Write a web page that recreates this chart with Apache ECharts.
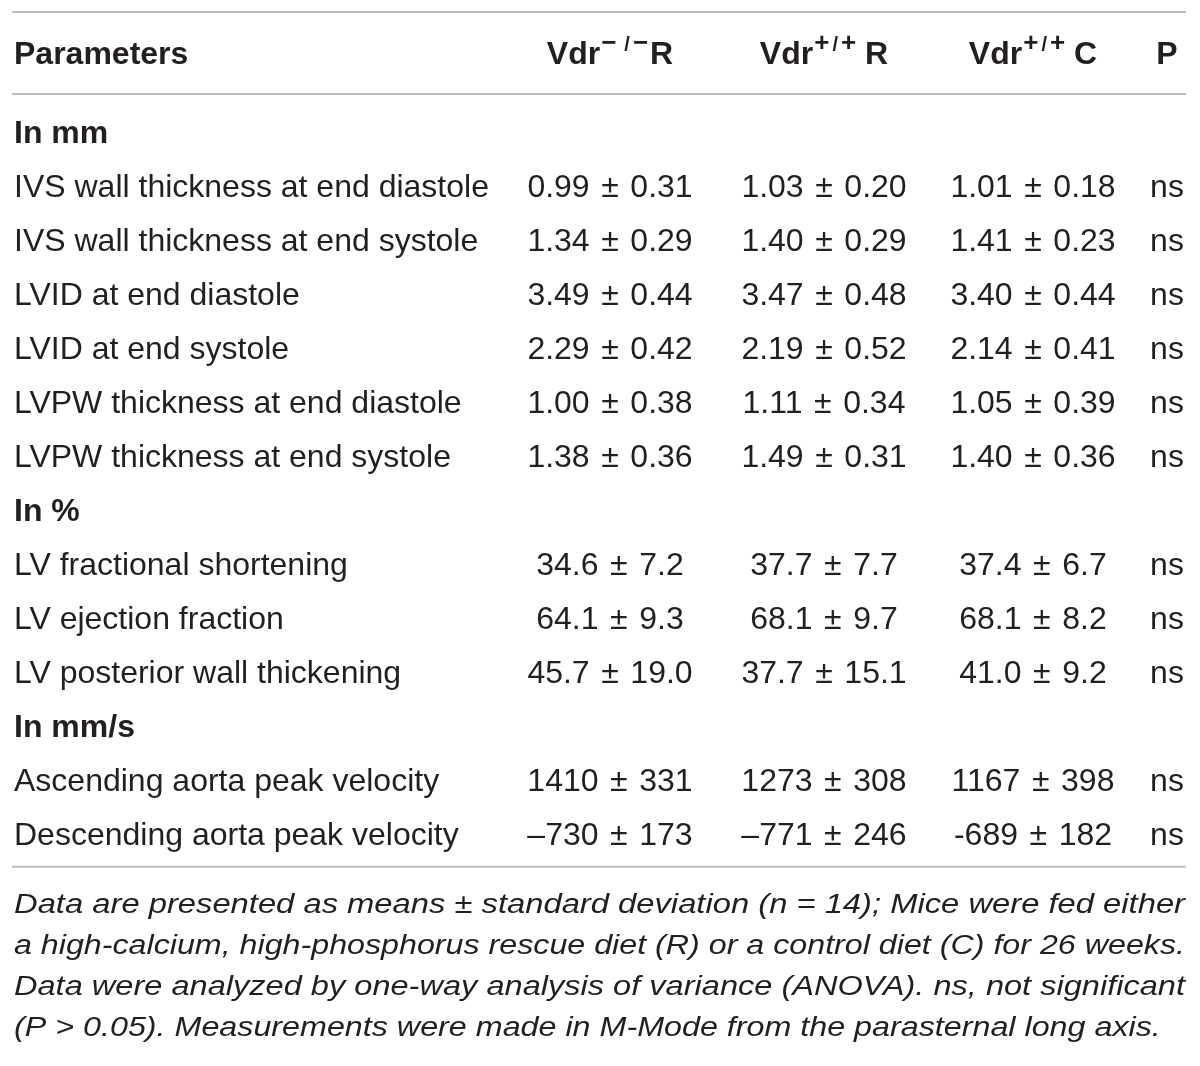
<!DOCTYPE html>
<html lang="en">
<head>
<meta charset="UTF-8">
<title>Echocardiographic parameters</title>
<script src="https://cdn.jsdelivr.net/npm/echarts@6/dist/echarts.min.js"></script>
<style>
  body { margin: 0; background: #fff; }
  #chart { width: 1200px; height: 1066px; }
</style>
</head>
<body>
<div id="chart"></div>
<script>
// table rows, top to bottom; section headings carry no values
const rowLabels = [
  'In mm',
  'IVS wall thickness at end diastole',
  'IVS wall thickness at end systole',
  'LVID at end diastole',
  'LVID at end systole',
  'LVPW thickness at end diastole',
  'LVPW thickness at end systole',
  'In %',
  'LV fractional shortening',
  'LV ejection fraction',
  'LV posterior wall thickening',
  'In mm/s',
  'Ascending aorta peak velocity',
  'Descending aorta peak velocity'
];
const sectionRows = ['In mm', 'In %', 'In mm/s'];
const decimals = [null, 2, 2, 2, 2, 2, 2, null, 1, 1, 1, null, 0, 0];

const koRMean = [null, 0.99, 1.34, 3.49, 2.29, 1.00, 1.38, null, 34.6, 64.1, 45.7, null, 1410, -730];
const koRSd   = [null, 0.31, 0.29, 0.44, 0.42, 0.38, 0.36, null, 7.2, 9.3, 19.0, null, 331, 173];
const wtRMean = [null, 1.03, 1.40, 3.47, 2.19, 1.11, 1.49, null, 37.7, 68.1, 37.7, null, 1273, -771];
const wtRSd   = [null, 0.20, 0.29, 0.48, 0.52, 0.34, 0.31, null, 7.7, 9.7, 15.1, null, 308, 246];
const wtCMean = [null, 1.01, 1.41, 3.40, 2.14, 1.05, 1.40, null, 37.4, 68.1, 41.0, null, 1167, -689];
const wtCSd   = [null, 0.18, 0.23, 0.44, 0.41, 0.39, 0.36, null, 6.7, 8.2, 9.2, null, 398, 182];
const pValues = [null, 'ns', 'ns', 'ns', 'ns', 'ns', 'ns', null, 'ns', 'ns', 'ns', null, 'ns', 'ns'];
const minusSigns = ['\u2013', '\u2013', '-'];   // as printed in each column

// header: [base, superscript sign, tail]
const firstHead = 'Parameters';
const groupHeads = [['Vdr', '\u2212', 'R'], ['Vdr', '+', ' R'], ['Vdr', '+', ' C']];
const pHead = 'P';

const footnote = [
  'Data are presented as means \u00b1 standard deviation (n = 14); Mice were fed either',
  'a high-calcium, high-phosphorus rescue diet (R) or a control diet (C) for 26 weeks.',
  'Data were analyzed by one-way analysis of variance (ANOVA). ns, not significant',
  '(P > 0.05). Measurements were made in M-Mode from the parasternal long axis.'
];

// layout
const FONT = '"Liberation Sans", Arial, sans-serif';
const INK = '#231f20';
const RULE = '#bdbdbd';
const labelX = 14;
const colX = [610, 824, 1033, 1167];   // centres of the value columns and P
const headerRow = -1.46;
const ruleRows = [-2.26, -0.74];       // rules above and below the header

const ctx = document.createElement('canvas').getContext('2d');
function measure(text, font) {
  ctx.font = font;
  return ctx.measureText(text).width;
}

function fmt(mean, sd, d, k) {
  const m = (mean < 0 ? minusSigns[k] : '') + Math.abs(mean).toFixed(d);
  return m + ' \u200a\u00b1\u200a ' + sd.toFixed(d);
}

const cellData = rowLabels.map((label, i) => {
  const isSection = sectionRows.indexOf(label) >= 0;
  return {
    value: [0, i],
    label: label,
    section: isSection,
    cells: isSection ? [] : [
      fmt(koRMean[i], koRSd[i], decimals[i], 0),
      fmt(wtRMean[i], wtRSd[i], decimals[i], 1),
      fmt(wtCMean[i], wtCSd[i], decimals[i], 2),
      pValues[i]
    ]
  };
});

function txt(x, y, text, opts) {
  return {
    type: 'text',
    x: x, y: y,
    style: Object.assign({
      text: text,
      fill: INK,
      font: '32px ' + FONT,
      align: 'left',
      verticalAlign: 'middle'
    }, opts || {})
  };
}

function hline(api, v) {
  const y = api.coord([0, v])[1];
  return {
    type: 'line',
    shape: { x1: api.coord([12, 0])[0], y1: y, x2: api.coord([1186, 0])[0], y2: y },
    style: { stroke: RULE, lineWidth: 2 }
  };
}

// pieces of a header with a raised genotype, laid out left to right around cx
const BOLD = 'bold 32px ' + FONT;
const SIGN = 'bold 26px ' + FONT;
const SLASH = 'bold 20px ' + FONT;
function headPieces(h, cx, y) {
  const minus = h[1] !== '+';
  const parts = [
    { t: h[0], f: BOLD, dy: 0, gap: 1 },
    { t: h[1], f: SIGN, dy: -11, gap: minus ? 8 : 3 },
    { t: '/', f: SLASH, dy: -10, gap: 3 },
    { t: h[1], f: SIGN, dy: -11, gap: minus ? 2 : 0 },
    { t: h[2], f: BOLD, dy: 0, gap: 0 }
  ];
  let total = 0;
  parts.forEach(p => { p.w = measure(p.t, p.f); total += p.w + p.gap; });
  let x = cx - total / 2;
  return parts.map(p => {
    const el = txt(x, y + p.dy, p.t, { font: p.f });
    x += p.w + p.gap;
    return el;
  });
}

// justify the footnote: measure each line, stretch it to the full table width
const noteFont = 'italic 27px ' + FONT;
const noteWidth = 1171;
const naturalScale = 1.195;

const chart = echarts.init(document.getElementById('chart'));

chart.setOption({
  animation: false,
  backgroundColor: '#fff',
  grid: { left: 0, right: 0, top: 26, bottom: 14 },
  xAxis: { type: 'value', min: 0, max: 1200, show: false },
  yAxis: { type: 'value', min: -2, max: 17, inverse: true, show: false },
  series: [
    {
      // header row with its rules
      type: 'custom',
      data: [[0, headerRow]],
      renderItem: function (params, api) {
        const y = api.coord([0, headerRow])[1];
        let children = [
          hline(api, ruleRows[0]),
          hline(api, ruleRows[1]),
          txt(api.coord([labelX, 0])[0], y, firstHead, { font: BOLD })
        ];
        groupHeads.forEach((h, k) => {
          children = children.concat(headPieces(h, api.coord([colX[k], 0])[0], y));
        });
        children.push(txt(api.coord([colX[3], 0])[0], y, pHead, { font: BOLD, align: 'center' }));
        return { type: 'group', children: children };
      }
    },
    {
      // body rows
      type: 'custom',
      data: cellData,
      renderItem: function (params, api) {
        const row = cellData[params.dataIndex];
        const y = api.coord([0, row.value[1]])[1];
        const children = [
          txt(api.coord([labelX, 0])[0], y, row.label, row.section ? { font: BOLD } : null)
        ];
        row.cells.forEach((c, k) => {
          children.push(txt(api.coord([colX[k], 0])[0], y, c, { align: 'center' }));
        });
        if (params.dataIndex === cellData.length - 1) {
          children.push(hline(api, row.value[1] + 0.57));
        }
        return { type: 'group', children: children };
      }
    }
  ],
  graphic: footnote.map((line, i) => {
    const last = i === footnote.length - 1;
    const s = last ? naturalScale : noteWidth / measure(line, noteFont);
    return {
      type: 'text',
      x: 14,
      y: 905 + i * 41,
      scaleX: s,
      style: {
        text: line,
        fill: INK,
        font: noteFont,
        verticalAlign: 'middle'
      }
    };
  })
});

window.addEventListener('resize', () => chart.resize());
</script>
</body>
</html>
